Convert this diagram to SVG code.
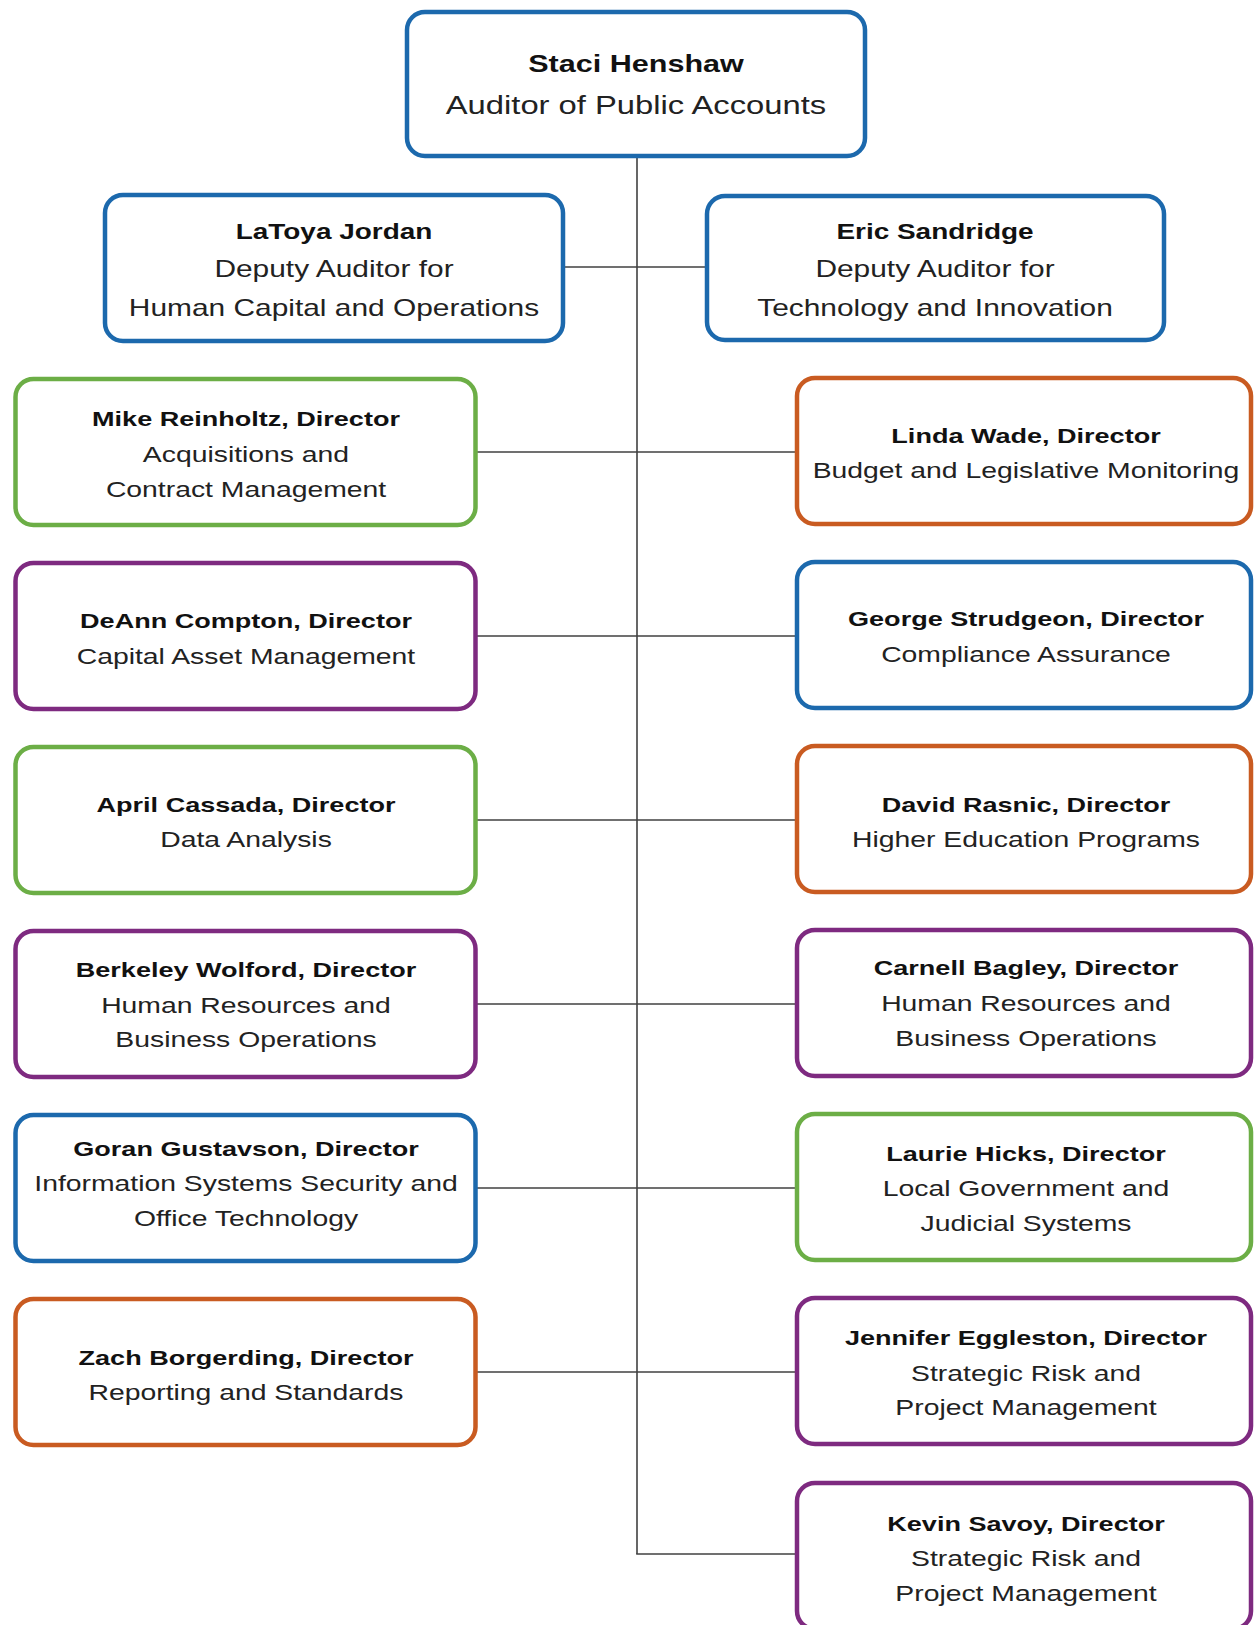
<svg xmlns="http://www.w3.org/2000/svg" width="1255" height="1625" viewBox="0 0 1255 1625">
<style>
rect.box{fill:#fff;stroke-width:4.5}
.blue{stroke:#1c69ad}
.green{stroke:#6cae46}
.orange{stroke:#c95b21}
.purple{stroke:#7e2a80}
text{font-family:"Liberation Sans",Arial,sans-serif;text-anchor:middle;fill:#222}
.b{font-weight:bold;font-size:20.8px;fill:#111}
.r{font-size:21.8px}
.db{font-weight:bold;font-size:21.5px;fill:#111}
.dr{font-size:23px}
.tb{font-weight:bold;font-size:23.5px;fill:#111}
.tr{font-size:25.2px}
.conn line{stroke:#404040;stroke-width:1.6;fill:none}
</style>
<rect width="1255" height="1625" fill="#fff"/>
<g class="conn" id="connectors">
<line x1="637" y1="158" x2="637" y2="1554"/>
<line x1="565" y1="267" x2="705" y2="267"/>
<line x1="477" y1="452" x2="796" y2="452"/>
<line x1="477" y1="636" x2="796" y2="636"/>
<line x1="477" y1="820" x2="796" y2="820"/>
<line x1="477" y1="1004" x2="796" y2="1004"/>
<line x1="477" y1="1188" x2="796" y2="1188"/>
<line x1="477" y1="1372" x2="796" y2="1372"/>
<line x1="636.2" y1="1554" x2="796" y2="1554"/>
</g>
<g id="staci">
<rect class="box blue" x="407" y="12" width="458" height="144" rx="18"/>
<g transform="translate(636 0) scale(1.3 1)"><text class="tb" x="0" y="72">Staci Henshaw</text><text class="tr" x="0" y="114">Auditor of Public Accounts</text></g>
</g>
<g id="latoya">
<rect class="box blue" x="105" y="195" width="458" height="146" rx="18"/>
<g transform="translate(334 0) scale(1.3 1)"><text class="db" x="0" y="239">LaToya Jordan</text><text class="dr" x="0" y="277">Deputy Auditor for</text><text class="dr" x="0" y="316">Human Capital and Operations</text></g>
</g>
<g id="eric">
<rect class="box blue" x="707" y="196" width="457" height="144" rx="18"/>
<g transform="translate(935 0) scale(1.3 1)"><text class="db" x="0" y="239">Eric Sandridge</text><text class="dr" x="0" y="277">Deputy Auditor for</text><text class="dr" x="0" y="316">Technology and Innovation</text></g>
</g>
<g id="mike">
<rect class="box green" x="15.5" y="379" width="460" height="146" rx="18"/>
<g transform="translate(246 0) scale(1.3 1)"><text class="b" x="0" y="426">Mike Reinholtz, Director</text><text class="r" x="0" y="462">Acquisitions and</text><text class="r" x="0" y="497">Contract Management</text></g>
</g>
<g id="linda">
<rect class="box orange" x="797" y="378" width="454" height="146" rx="18"/>
<g transform="translate(1026 0) scale(1.3 1)"><text class="b" x="0" y="443">Linda Wade, Director</text><text class="r" x="0" y="478">Budget and Legislative Monitoring</text></g>
</g>
<g id="deann">
<rect class="box purple" x="15.5" y="563" width="460" height="146" rx="18"/>
<g transform="translate(246 0) scale(1.3 1)"><text class="b" x="0" y="628">DeAnn Compton, Director</text><text class="r" x="0" y="664">Capital Asset Management</text></g>
</g>
<g id="george">
<rect class="box blue" x="797" y="562" width="454" height="146" rx="18"/>
<g transform="translate(1026 0) scale(1.3 1)"><text class="b" x="0" y="626">George Strudgeon, Director</text><text class="r" x="0" y="662">Compliance Assurance</text></g>
</g>
<g id="april">
<rect class="box green" x="15.5" y="747" width="460" height="146" rx="18"/>
<g transform="translate(246 0) scale(1.3 1)"><text class="b" x="0" y="812">April Cassada, Director</text><text class="r" x="0" y="847">Data Analysis</text></g>
</g>
<g id="david">
<rect class="box orange" x="797" y="746" width="454" height="146" rx="18"/>
<g transform="translate(1026 0) scale(1.3 1)"><text class="b" x="0" y="812">David Rasnic, Director</text><text class="r" x="0" y="847">Higher Education Programs</text></g>
</g>
<g id="berkeley">
<rect class="box purple" x="15.5" y="931" width="460" height="146" rx="18"/>
<g transform="translate(246 0) scale(1.3 1)"><text class="b" x="0" y="977">Berkeley Wolford, Director</text><text class="r" x="0" y="1013">Human Resources and</text><text class="r" x="0" y="1047">Business Operations</text></g>
</g>
<g id="carnell">
<rect class="box purple" x="797" y="930" width="454" height="146" rx="18"/>
<g transform="translate(1026 0) scale(1.3 1)"><text class="b" x="0" y="975">Carnell Bagley, Director</text><text class="r" x="0" y="1011">Human Resources and</text><text class="r" x="0" y="1046">Business Operations</text></g>
</g>
<g id="goran">
<rect class="box blue" x="15.5" y="1115" width="460" height="146" rx="18"/>
<g transform="translate(246 0) scale(1.3 1)"><text class="b" x="0" y="1156">Goran Gustavson, Director</text><text class="r" x="0" y="1191">Information Systems Security and</text><text class="r" x="0" y="1226">Office Technology</text></g>
</g>
<g id="laurie">
<rect class="box green" x="797" y="1114" width="454" height="146" rx="18"/>
<g transform="translate(1026 0) scale(1.3 1)"><text class="b" x="0" y="1161">Laurie Hicks, Director</text><text class="r" x="0" y="1196">Local Government and</text><text class="r" x="0" y="1231">Judicial Systems</text></g>
</g>
<g id="zach">
<rect class="box orange" x="15.5" y="1299" width="460" height="146" rx="18"/>
<g transform="translate(246 0) scale(1.3 1)"><text class="b" x="0" y="1365">Zach Borgerding, Director</text><text class="r" x="0" y="1400">Reporting and Standards</text></g>
</g>
<g id="jennifer">
<rect class="box purple" x="797" y="1298" width="454" height="146" rx="18"/>
<g transform="translate(1026 0) scale(1.3 1)"><text class="b" x="0" y="1345">Jennifer Eggleston, Director</text><text class="r" x="0" y="1381">Strategic Risk and</text><text class="r" x="0" y="1415">Project Management</text></g>
</g>
<g id="kevin">
<rect class="box purple" x="797" y="1483" width="454" height="146" rx="18"/>
<g transform="translate(1026 0) scale(1.3 1)"><text class="b" x="0" y="1531">Kevin Savoy, Director</text><text class="r" x="0" y="1566">Strategic Risk and</text><text class="r" x="0" y="1601">Project Management</text></g>
</g>
</svg>
